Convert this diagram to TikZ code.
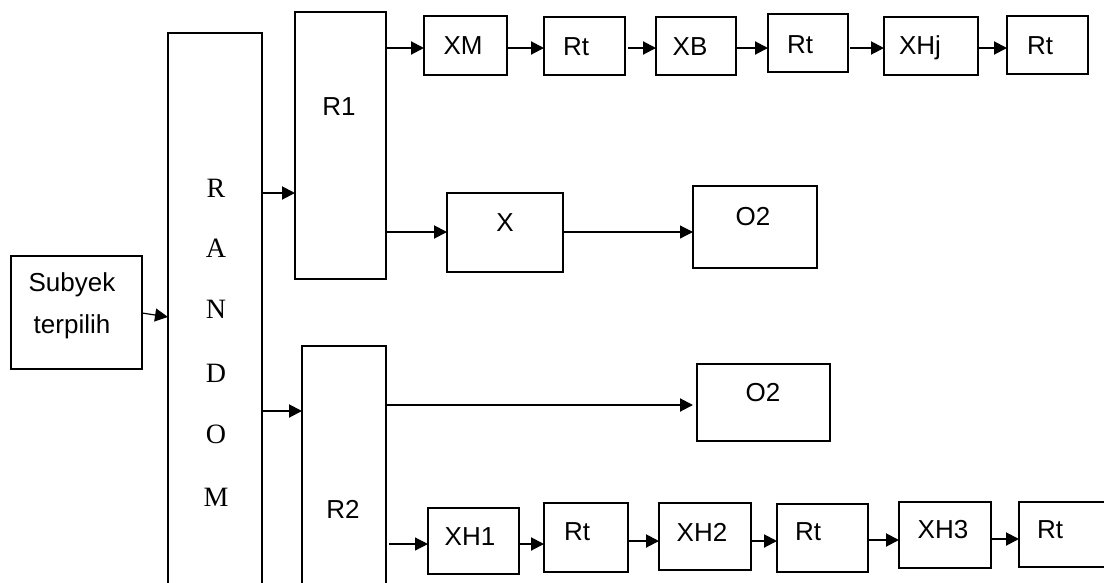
\documentclass[tikz,border=0pt]{standalone}
\usepackage{fontspec}
\setmainfont{Liberation Sans}
\newfontfamily\timesr{Liberation Serif}
\usetikzlibrary{arrows.meta}
\begin{document}
\begin{tikzpicture}[x=1pt,y=-1pt,
  box/.style={draw,line width=2.3pt,inner sep=0pt,outer sep=0pt},
  lbl/.style={inner sep=0pt,font=\fontsize{26}{30}\selectfont},
  rnd/.style={inner sep=0pt,font=\timesr\fontsize{28}{30}\selectfont},
  arr/.style={line width=2pt,-{Triangle[length=13pt,width=13pt]}},
  thin arr/.style={line width=1.2pt,-{Triangle[length=13pt,width=13pt]}}]
\clip (0,0) rectangle (1104,582);
\fill[white] (0,0) rectangle (1104,582);
% big boxes
\node[box,minimum width=94pt,minimum height=587pt] (random) at (215,326.5) {};
\node[box,minimum width=91pt,minimum height=267pt] (r1) at (340.5,145.5) {};
\node[box,minimum width=84pt,minimum height=274pt] (r2) at (344,483) {};
\node[box,minimum width=131pt,minimum height=113pt] (subyek) at (76.5,312.5) {};
\node[lbl] (r1t) at (339,107) {R1};
\node[lbl] (r2t) at (343,509) {R2};
\node[lbl] (sub1) at (72,285) {Subyek};
\node[lbl] (sub2) at (72,327) {terpilih};
\node[rnd] (lR) at (216,188) {R};
\node[rnd] (lA) at (216,248) {A};
\node[rnd] (lN) at (216,309) {N};
\node[rnd] (lD) at (216,373) {D};
\node[rnd] (lO) at (216,434) {O};
\node[rnd] (lM) at (216,497) {M};
% top row
\node[box,minimum width=83pt,minimum height=59pt] (xm) at (465.5,45.5) {};
\node[box,minimum width=81pt,minimum height=58pt] (rt1) at (584.5,46) {};
\node[box,minimum width=80pt,minimum height=58pt] (xb) at (696,46) {};
\node[box,minimum width=80pt,minimum height=58pt] (rt2) at (808,43) {};
\node[box,minimum width=94pt,minimum height=58pt] (xhj) at (931,46) {};
\node[box,minimum width=81pt,minimum height=58pt] (rt3) at (1047.5,45) {};
\node[lbl] (xmt) at (463,46) {XM};
\node[lbl] (rt1t) at (576,47) {Rt};
\node[lbl] (xbt) at (690,47) {XB};
\node[lbl] (rt2t) at (800,45) {Rt};
\node[lbl] (xhjt) at (920,48) {XHj};
\node[lbl] (rt3t) at (1040,46) {Rt};
% middle
\node[box,minimum width=116pt,minimum height=79pt] (x) at (505,232.5) {};
\node[box,minimum width=124pt,minimum height=82pt] (o2a) at (755,227) {};
\node[box,minimum width=133pt,minimum height=77pt] (o2b) at (763.5,402.5) {};
\node[lbl] (xt) at (505,223) {X};
\node[lbl] (o2at) at (753,217) {O2};
\node[lbl] (o2bt) at (763,393) {O2};
% bottom row
\node[box,minimum width=91pt,minimum height=66pt] (xh1) at (473.5,541) {};
\node[box,minimum width=84pt,minimum height=69pt] (rt4) at (586,537.5) {};
\node[box,minimum width=92pt,minimum height=67pt] (xh2) at (705,536.5) {};
\node[box,minimum width=91pt,minimum height=68pt] (rt5) at (822.5,538) {};
\node[box,minimum width=92pt,minimum height=66pt] (xh3) at (945,535) {};
\node[box,minimum width=106pt,minimum height=65pt] (rt6) at (1072,534.5) {};
\node[lbl] (xh1t) at (470,537) {XH1};
\node[lbl] (rt4t) at (577,532) {Rt};
\node[lbl] (xh2t) at (702,532) {XH2};
\node[lbl] (rt5t) at (808,532) {Rt};
\node[lbl] (xh3t) at (943,530) {XH3};
\node[lbl] (rt6t) at (1050,530) {Rt};
% connectors left
\draw[thin arr] (subyek.east |- 0,313) -- (random.west |- 0,317);
\draw[arr] (random.east |- 0,193) -- (r1.west |- 0,193);
\draw[arr] (random.east |- 0,411) -- (r2.west |- 0,411);
% top row connectors
\draw[arr] (r1.east |- 0,48) -- (xm.west |- 0,48);
\draw[arr] (xm.east |- 0,48) -- (rt1.west |- 0,48);
\draw[arr] ([xshift=3pt]rt1.east |- 0,48) -- (xb.west |- 0,48);
\draw[arr] (xb.east |- 0,48) -- (rt2.west |- 0,48);
\draw[arr] ([xshift=2pt]rt2.east |- 0,48) -- (xhj.west |- 0,48);
\draw[arr] (xhj.east |- 0,48) -- (rt3.west |- 0,48);
% middle connectors
\draw[arr] (r1.east |- 0,232) -- (x.west |- 0,232);
\draw[thin arr] (x.east |- 0,232) -- (o2a.west |- 0,232);
\draw[arr] (r2.east |- 0,405) -- ([xshift=-4pt]o2b.west |- 0,405);
% bottom row connectors
\draw[thin arr] ([xshift=3pt]r2.east |- 0,544) -- (xh1.west |- 0,544);
\draw[arr] (xh1.east |- 0,544) -- (rt4.west |- 0,544);
\draw[arr] (rt4.east |- 0,541) -- (xh2.west |- 0,541);
\draw[arr] (xh2.east |- 0,541) -- (rt5.west |- 0,541);
\draw[arr] (rt5.east |- 0,540) -- (xh3.west |- 0,540);
\draw[arr] (xh3.east |- 0,539) -- (rt6.west |- 0,539);
\end{tikzpicture}
\end{document}
